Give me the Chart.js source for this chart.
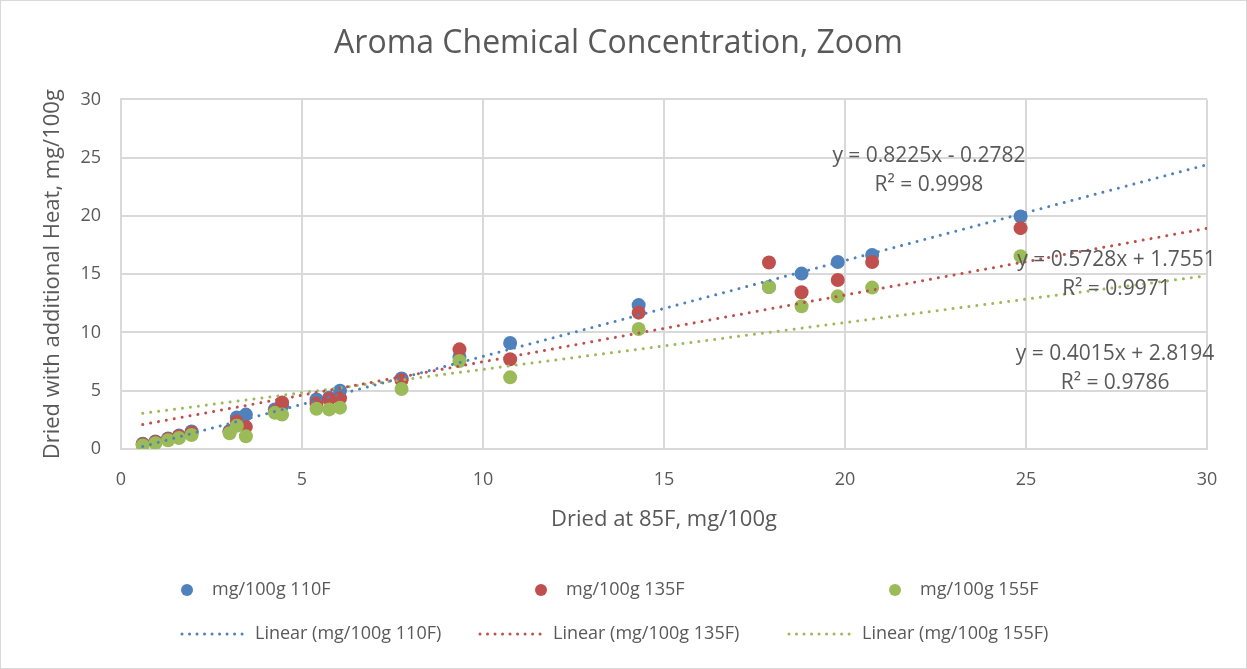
<!DOCTYPE html>
<html>
<head>
<meta charset="utf-8">
<title>Aroma Chemical Concentration, Zoom</title>
<script src="https://cdn.jsdelivr.net/npm/chart.js@4.4.1/dist/chart.umd.min.js"></script>
<style>
  html, body { margin: 0; padding: 0; background: #fff; }
  #wrap { width: 1247px; height: 669px; }
</style>
</head>
<body>
<div id="wrap"><canvas id="aromaChart" width="1247" height="669"></canvas></div>
<script>
// Concentrations dried at 85F (x) against the same samples dried with extra heat (y)
const driedAt85 = [0.6, 0.95, 1.3, 1.6, 1.95, 3.0, 3.2, 3.45, 4.25, 4.45, 5.4, 5.75, 6.05, 7.75, 9.35, 10.75, 14.3, 17.9, 18.8, 19.8, 20.75, 24.85];
const heat110 = [0.45, 0.65, 0.9, 1.15, 1.5, 1.55, 2.7, 2.95, 3.4, 3.7, 4.25, 4.4, 5.0, 6.05, 7.9, 9.1, 12.35, 13.9, 15.05, 16.05, 16.65, 19.95];
const heat135 = [0.4, 0.6, 0.85, 1.1, 1.4, 1.45, 2.35, 1.9, 3.2, 4.0, 3.9, 4.3, 4.35, 5.9, 8.55, 7.7, 11.7, 16.0, 13.45, 14.5, 16.05, 18.95];
const heat155 = [0.3, 0.5, 0.75, 0.95, 1.2, 1.35, 2.0, 1.1, 3.1, 2.95, 3.45, 3.4, 3.55, 5.15, 7.55, 6.15, 10.3, 13.9, 12.25, 13.1, 13.85, 16.55];

const seriesNames = ['mg/100g 110F', 'mg/100g 135F', 'mg/100g 155F'];
const seriesColors = ['#4F81BD', '#C0504D', '#9BBB59'];

// Linear trendline fits (Excel output)
const trendSlopes = [0.8225, 0.5728, 0.4015];
const trendIntercepts = [-0.2782, 1.7551, 2.8194];
const trendR2 = ['0.9998', '0.9971', '0.9786'];

const axisMin = 0;
const axisMax = 30;
const axisStep = 5;

const TEXT = '#595959';
const GRID = '#d9d9d9';
const FONT = "'Open Sans', sans-serif";

Chart.defaults.font.family = FONT;
Chart.defaults.color = TEXT;

function toPoints(ys) {
    return driedAt85.map((x, i) => ({ x: x, y: ys[i] }));
}

function trendPoints(k) {
    const x0 = Math.min(...driedAt85);
    return [
        { x: x0, y: trendSlopes[k] * x0 + trendIntercepts[k] },
        { x: axisMax, y: trendSlopes[k] * axisMax + trendIntercepts[k] }
    ];
}

const seriesValues = [heat110, heat135, heat155];

// markers: green on top of red on top of blue, trendlines over all markers
const datasets = [];
seriesValues.forEach((ys, k) => {
    datasets.push({
        label: seriesNames[k],
        data: toPoints(ys),
        backgroundColor: seriesColors[k],
        borderColor: seriesColors[k],
        borderWidth: 0,
        pointRadius: 7,
        pointHoverRadius: 7,
        showLine: false,
        order: 3 - k
    });
});
seriesValues.forEach((ys, k) => {
    datasets.push({
        label: 'Linear (' + seriesNames[k] + ')',
        data: trendPoints(k),
        borderColor: seriesColors[k],
        borderWidth: 3,
        borderDash: [0.01, 8],
        borderCapStyle: 'round',
        pointRadius: 0,
        showLine: true,
        fill: false,
        order: 0
    });
});

// Excel-style trendline labels, anchored in data units
const equationAnchors = [
    { x: 22.32, y: 25.1 },
    { x: 27.5, y: 16.2 },
    { x: 27.46, y: 8.17 }
];

const backgroundPlugin = {
    id: 'sheetBackground',
    beforeDraw(chart) {
        const ctx = chart.ctx;
        ctx.save();
        ctx.fillStyle = '#ffffff';
        ctx.fillRect(0, 0, chart.width, chart.height);
        ctx.strokeStyle = GRID;
        ctx.lineWidth = 1;
        ctx.strokeRect(0.5, 0.5, chart.width - 1, chart.height - 1);
        ctx.restore();
    }
};

const equationPlugin = {
    id: 'trendEquations',
    afterDraw(chart) {
        const ctx = chart.ctx;
        const xs = chart.scales.x;
        const ys = chart.scales.y;
        ctx.save();
        ctx.font = '21px ' + FONT;
        ctx.fillStyle = TEXT;
        ctx.textAlign = 'center';
        ctx.textBaseline = 'middle';
        equationAnchors.forEach((a, k) => {
            const px = xs.getPixelForValue(a.x);
            const py = ys.getPixelForValue(a.y);
            const b = trendIntercepts[k];
            const eq = 'y = ' + trendSlopes[k].toFixed(4) + 'x ' + (b < 0 ? '- ' : '+ ') + Math.abs(b).toFixed(4);
            ctx.fillText(eq, px, py);
            ctx.fillText('R\u00B2 = ' + trendR2[k], px, py + 29);
        });
        ctx.restore();
    }
};

// two-row legend: markers on top, dotted trendlines underneath
const legendPlugin = {
    id: 'twoRowLegend',
    afterDraw(chart) {
        const ctx = chart.ctx;
        const markerX = [187, 541, 895];
        const lineX = [180, 478, 787];
        ctx.save();
        ctx.font = '18px ' + FONT;
        ctx.textBaseline = 'middle';
        ctx.textAlign = 'left';
        for (let k = 0; k < 3; k++) {
            const marker = chart.data.datasets[k];
            ctx.fillStyle = marker.backgroundColor;
            ctx.beginPath();
            ctx.arc(markerX[k], 590, 6, 0, Math.PI * 2);
            ctx.fill();
            ctx.fillStyle = TEXT;
            ctx.fillText(marker.label, markerX[k] + 25, 590);

            const trend = chart.data.datasets[k + 3];
            ctx.strokeStyle = trend.borderColor;
            ctx.lineWidth = 3;
            ctx.lineCap = 'round';
            ctx.setLineDash([0.01, 7.5]);
            ctx.beginPath();
            ctx.moveTo(lineX[k] + 2, 634);
            ctx.lineTo(lineX[k] + 66, 634);
            ctx.stroke();
            ctx.setLineDash([]);
            ctx.fillStyle = TEXT;
            ctx.fillText(trend.label, lineX[k] + 75, 634);
        }
        ctx.restore();
    }
};

function axisOptions(titleText, isY) {
    return {
        type: 'linear',
        min: axisMin,
        max: axisMax,
        ticks: {
            stepSize: axisStep,
            color: TEXT,
            font: { size: 18 },
            padding: 20
        },
        grid: {
            color: GRID,
            lineWidth: 2,
            drawTicks: false
        },
        border: { color: GRID, width: 2 },
        title: {
            display: true,
            text: titleText,
            color: TEXT,
            font: { size: 22 },
            padding: isY ? { top: 10, bottom: 0 } : { top: 0, bottom: 6 }
        },
        afterFit(scale) {
            if (isY) {
                scale.width = 91;
            } else {
                scale.height = 90;
            }
        }
    };
}

const aromaChart = new Chart(document.getElementById('aromaChart'), {
    type: 'scatter',
    data: { datasets: datasets },
    options: {
        responsive: false,
        animation: false,
        layout: { padding: { left: 30, right: 40, top: 0, bottom: 130 } },
        plugins: {
            legend: { display: false },
            tooltip: { enabled: false },
            title: {
                display: true,
                text: 'Aroma Chemical Concentration, Zoom',
                color: TEXT,
                font: { size: 32, weight: 'normal' },
                padding: { top: 25, bottom: 36 }
            }
        },
        scales: {
            x: axisOptions('Dried at 85F, mg/100g', false),
            y: axisOptions('Dried with additional Heat, mg/100g', true)
        }
    },
    plugins: [backgroundPlugin, equationPlugin, legendPlugin]
});
</script>
</body>
</html>
